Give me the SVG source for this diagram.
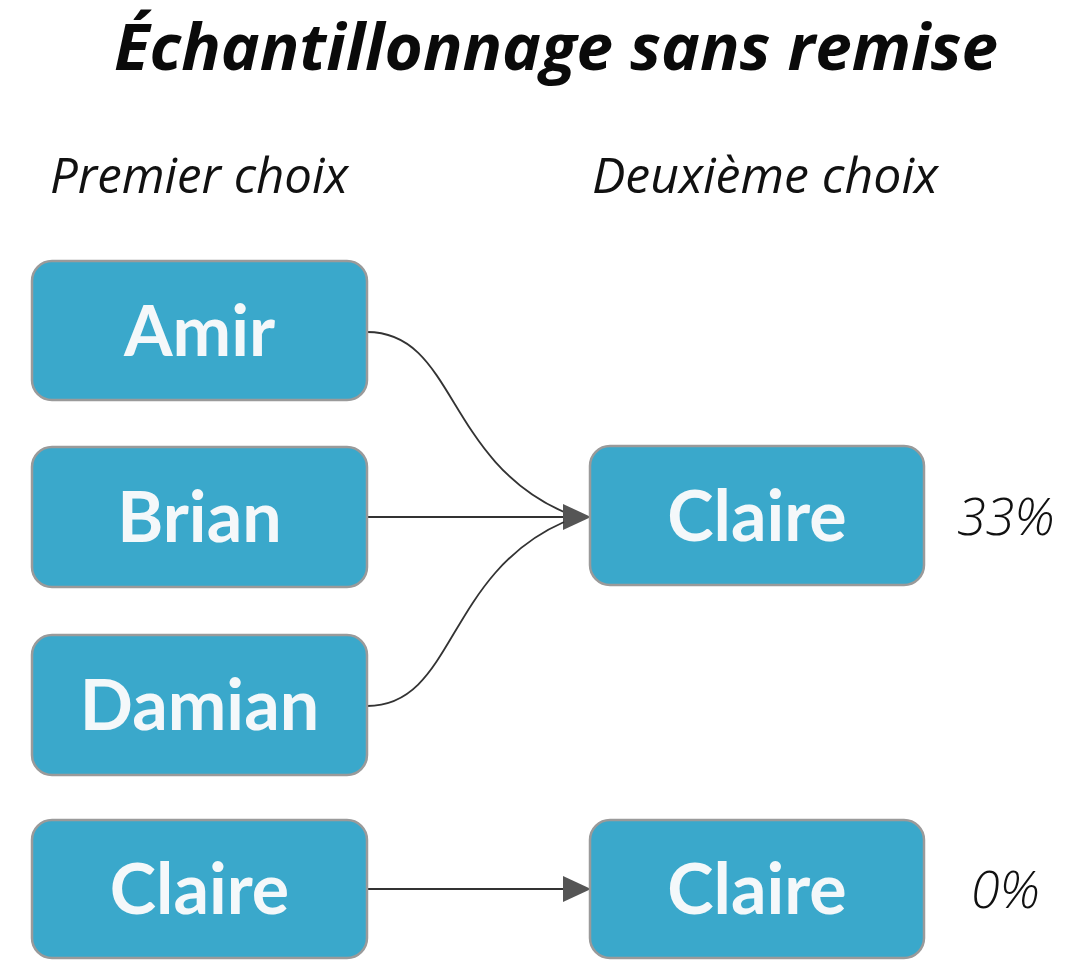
<svg xmlns="http://www.w3.org/2000/svg" width="1086" height="976" viewBox="0 0 1086 976">
<defs>
<marker id="arr" markerUnits="userSpaceOnUse" markerWidth="28" markerHeight="26" refX="27" refY="13" orient="auto">
<path d="M0,0 L28,13 L0,26 z" fill="#555555"/>
</marker>
<style>
.box{fill:#3aa8cb;stroke:#9a9a9a;stroke-width:2.5}
.lbl{font-family:Lato,"Open Sans","Liberation Sans",sans-serif;font-weight:700;font-size:70px;fill:#f4f8fa;text-anchor:middle}
.hdr{font-family:"Open Sans","Liberation Sans",sans-serif;font-style:italic;font-weight:400;font-size:49px;fill:#111111}
.pct{font-family:"Open Sans","Liberation Sans",sans-serif;font-style:italic;font-weight:300;font-size:52px;fill:#111111}
.con{fill:none;stroke:#333333;stroke-width:1.8}
</style>
</defs>
<rect width="1086" height="976" fill="#ffffff"/>
<text x="556" y="70" text-anchor="middle" font-family="'Open Sans','Liberation Sans',sans-serif" font-weight="700" font-style="italic" font-size="65" fill="#0a0a0a" textLength="884" lengthAdjust="spacingAndGlyphs">Échantillonnage sans remise</text>
<text class="hdr" x="50" y="193" textLength="298" lengthAdjust="spacingAndGlyphs">Premier choix</text>
<text class="hdr" x="592" y="193" textLength="346" lengthAdjust="spacingAndGlyphs">Deuxième choix</text>
<g id="connectors">
<path class="con" d="M367,332 C455,332 445,460 564,512"/>
<path class="con" d="M367,517 L590,517" marker-end="url(#arr)"/>
<path class="con" d="M367,706 C455,706 445,574 564,522"/>
<path class="con" d="M367,889 L590,889" marker-end="url(#arr)"/>
</g>
<g id="amir"><rect class="box" x="32" y="261" width="335" height="139" rx="20"/><text class="lbl" x="199.5" y="356">Amir</text></g>
<g id="brian"><rect class="box" x="32" y="447" width="335" height="140" rx="20"/><text class="lbl" x="199.5" y="542">Brian</text></g>
<g id="damian"><rect class="box" x="32" y="635" width="335" height="140" rx="20"/><text class="lbl" x="199.5" y="730">Damian</text></g>
<g id="claire1"><rect class="box" x="32" y="820" width="335" height="138" rx="20"/><text class="lbl" x="199.5" y="914">Claire</text></g>
<g id="claire2"><rect class="box" x="590" y="446" width="334" height="139" rx="20"/><text class="lbl" x="757" y="541">Claire</text></g>
<g id="claire3"><rect class="box" x="590" y="820" width="334" height="138" rx="20"/><text class="lbl" x="757" y="914">Claire</text></g>
<text class="pct" x="957" y="535">33%</text>
<text class="pct" x="971" y="908">0%</text>
</svg>
